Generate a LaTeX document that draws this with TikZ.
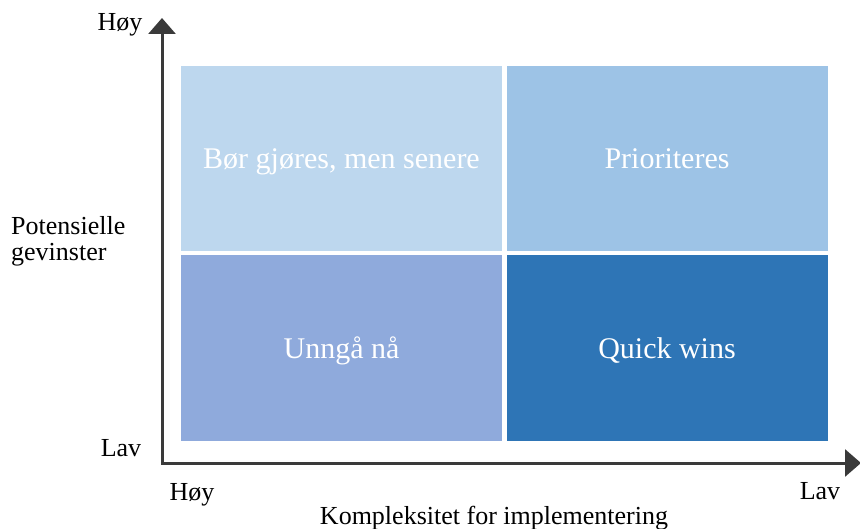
\documentclass[tikz,border=0pt]{standalone}
\usepackage{fontspec}
\setmainfont{Liberation Serif}
\usetikzlibrary{arrows.meta}
\definecolor{axisgray}{HTML}{3A3A3A}
\definecolor{lightblue}{HTML}{BDD7EE}
\definecolor{midblue}{HTML}{9DC3E6}
\definecolor{greyblue}{HTML}{8FAADC}
\definecolor{darkblue}{HTML}{2E75B6}

\begin{document}
\begin{tikzpicture}[x=1pt, y=-1pt,
  quad/.style={minimum width=321pt, minimum height=185pt, inner sep=0pt, text height=21pt, text depth=0pt, text=white, font=\fontsize{30}{34}\selectfont},
  axlabel/.style={font=\fontsize{26}{25.5}\selectfont, inner sep=0pt}]
\useasboundingbox (0,0) rectangle (860,529);

\node[quad, fill=lightblue] (hl) at (341.5,158.5) {Bør gjøres, men senere};
\node[quad, fill=midblue] (hh) at (667,158.5) {Prioriteres};
\node[quad, fill=greyblue, minimum height=186pt] (ll) at (341.5,348) {Unngå nå};
\node[quad, fill=darkblue, minimum height=186pt] (lh) at (667,348) {Quick wins};

\coordinate (top) at (162,18);
\coordinate (origin) at (162,463);
\coordinate (right) at (861,463);
\draw[axisgray, line width=3pt, {Triangle[width=27pt,length=16pt]}-{Triangle[width=27pt,length=16pt]}] (top) -- (origin) -- (right);

\node[axlabel, anchor=base] (yhigh) at (120,31) {Høy};
\node[axlabel, anchor=base] (ylow) at (121,456) {Lav};
\node[axlabel, anchor=west, align=left] (ytitle) at (11,241.5) {Potensielle\\gevinster};
\node[axlabel, anchor=base] (xhigh) at (192,500) {Høy};
\node[axlabel, anchor=base] (xlow) at (820,499) {Lav};
\node[axlabel, anchor=base] (xtitle) at (494,524) {Kompleksitet for implementering};
\end{tikzpicture}
\end{document}
